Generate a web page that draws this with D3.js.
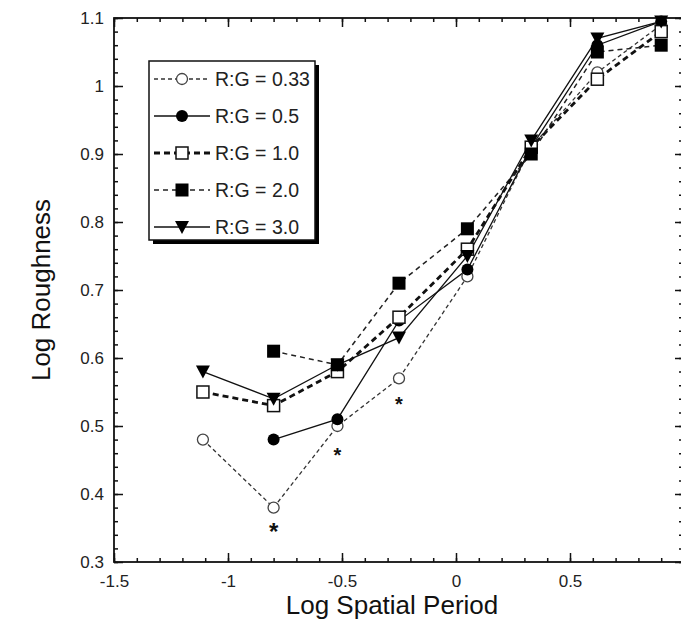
<!DOCTYPE html>
<html><head><meta charset="utf-8">
<script src="https://cdn.jsdelivr.net/npm/d3@7"></script>
<style>body{margin:0;background:#fff}svg{display:block}text{font-family:"Liberation Sans",Arial,Helvetica,sans-serif}</style>
</head><body>
<svg id="c" width="681" height="633"></svg>
<script>
const xTicks = [-1.5, -1, -0.5, 0, 0.5];
const yTicks = [0.3, 0.4, 0.5, 0.6, 0.7, 0.8, 0.9, 1, 1.1];
const seriesNames = ["R:G = 0.33", "R:G = 0.5", "R:G = 1.0", "R:G = 2.0", "R:G = 3.0"];
const rg033 = [[-1.11,0.48],[-0.80,0.38],[-0.52,0.50],[-0.25,0.57],[0.05,0.72],[0.33,0.91],[0.62,1.02],[0.90,1.09]];
const rg05  = [[-0.80,0.48],[-0.52,0.51],[-0.25,0.655],[0.05,0.73],[0.33,0.91],[0.62,1.06],[0.90,1.095]];
const rg10  = [[-1.11,0.55],[-0.80,0.53],[-0.52,0.58],[-0.25,0.66],[0.05,0.76],[0.33,0.91],[0.62,1.01],[0.90,1.08]];
const rg20  = [[-0.80,0.61],[-0.52,0.59],[-0.25,0.71],[0.05,0.79],[0.33,0.90],[0.62,1.05],[0.90,1.06]];
const rg30  = [[-1.11,0.58],[-0.80,0.54],[-0.52,0.59],[-0.25,0.63],[0.05,0.75],[0.33,0.92],[0.62,1.07],[0.90,1.095]];
const stars = [[-0.80,0.35],[-0.52,0.465],[-0.25,0.54]];

const svg = d3.select("#c");
const L = 114, R = 684, T = 18, B = 562;
const x = d3.scaleLinear().domain([-1.5, 1.0]).range([L, R]);
const y = d3.scaleLinear().domain([0.3, 1.1]).range([B, T]);

const styles = [
  {data: rg033, dash: "4,3", w: 1.3, col: "#333", marker: "ocircle"},
  {data: rg05,  dash: null,  w: 1.3, col: "#111", marker: "fcircle"},
  {data: rg10,  dash: "6,4", w: 2.8, col: "#111", marker: "osquare"},
  {data: rg20,  dash: "5,4", w: 1.5, col: "#222", marker: "fsquare"},
  {data: rg30,  dash: null,  w: 1.3, col: "#111", marker: "tri"}
];

// frame
svg.append("rect").attr("x", L).attr("y", T).attr("width", R - L).attr("height", B - T)
  .attr("fill", "none").attr("stroke", "#111").attr("stroke-width", 1.8);

const xMinor = d3.range(-1.5, 1.001, 0.1).map(v => +v.toFixed(2));
const yMinor = d3.range(0.3, 1.1001, 0.02).map(v => +v.toFixed(2));
function ax(gen, tr, vals, size, fmt){
  const g = svg.append("g").attr("transform", tr)
    .call(gen.tickValues(vals).tickSize(size).tickPadding(10).tickFormat(fmt));
  g.select(".domain").remove();
  g.selectAll(".tick line").attr("stroke", "#111").attr("stroke-width", 1.5);
  return g;
}
// minor ticks
ax(d3.axisBottom(x), `translate(0,${B})`, xMinor, -4, () => "");
ax(d3.axisTop(x), `translate(0,${T})`, xMinor, -4, () => "");
ax(d3.axisLeft(y), `translate(${L},0)`, yMinor, -4, () => "");
ax(d3.axisRight(y), `translate(${R},0)`, yMinor, -5, () => "");
// major ticks
const gx = ax(d3.axisBottom(x), `translate(0,${B})`, xTicks, -9, d => String(d));
gx.selectAll("text").attr("font-size", 17).attr("fill", "#222").attr("dy", "0.9em");
ax(d3.axisTop(x), `translate(0,${T})`, xTicks, -9, () => "");
const gy = ax(d3.axisLeft(y), `translate(${L},0)`, yTicks, -9, d => String(d));
gy.selectAll("text").attr("font-size", 17).attr("fill", "#222");
ax(d3.axisRight(y), `translate(${R},0)`, yTicks, -9, () => "");

// axis titles
svg.append("text").attr("x", 392).attr("y", 614).attr("text-anchor", "middle")
  .attr("font-size", 26).attr("fill", "#111").text("Log Spatial Period");
svg.append("text").attr("transform", "translate(50,290) rotate(-90)").attr("text-anchor", "middle")
  .attr("font-size", 26).attr("fill", "#111").text("Log Roughness");

function drawMarker(g, type, cx, cy){
  if (type === "ocircle") g.append("circle").attr("cx", cx).attr("cy", cy).attr("r", 5.5).attr("fill", "#fff").attr("stroke", "#444").attr("stroke-width", 1.3);
  if (type === "fcircle") g.append("circle").attr("cx", cx).attr("cy", cy).attr("r", 6).attr("fill", "#000");
  if (type === "osquare") g.append("rect").attr("x", cx-6).attr("y", cy-6).attr("width", 12).attr("height", 12).attr("fill", "#fff").attr("stroke", "#111").attr("stroke-width", 1.5);
  if (type === "fsquare") g.append("rect").attr("x", cx-6.5).attr("y", cy-6.5).attr("width", 13).attr("height", 13).attr("fill", "#000");
  if (type === "tri") g.append("path").attr("d", `M${cx-7},${cy-6}L${cx+7},${cy-6}L${cx},${cy+7}Z`).attr("fill", "#000");
}

const line = d3.line().x(d => x(d[0])).y(d => y(d[1]));
styles.forEach(s => {
  svg.append("path").attr("d", line(s.data)).attr("fill", "none").attr("stroke", s.col)
    .attr("stroke-width", s.w).attr("stroke-dasharray", s.dash);
});
styles.forEach(s => {
  const g = svg.append("g");
  s.data.forEach(d => drawMarker(g, s.marker, x(d[0]), y(d[1])));
});

// asterisks
stars.forEach((d, i) => {
  svg.append("text").attr("x", x(d[0])).attr("y", y(d[1]) + 12).attr("text-anchor", "middle")
    .attr("font-size", i === 0 ? 24 : 20).attr("font-weight", "bold").attr("fill", "#111").text("*");
});

// legend
const lg = svg.append("g");
lg.append("rect").attr("x", 153).attr("y", 65).attr("width", 166).attr("height", 179).attr("fill", "#000");
lg.append("rect").attr("x", 149).attr("y", 61).attr("width", 166).attr("height", 179).attr("fill", "#fff").attr("stroke", "#111").attr("stroke-width", 1.5);
styles.forEach((s, i) => {
  const cy = 79 + i * 37;
  lg.append("line").attr("x1", 154).attr("x2", 210).attr("y1", cy).attr("y2", cy)
    .attr("stroke", s.col).attr("stroke-width", s.w).attr("stroke-dasharray", s.dash);
  drawMarker(lg, s.marker, 182, cy);
  lg.append("text").attr("x", 215).attr("y", cy + 7).attr("font-size", 19.5).attr("fill", "#222").text(seriesNames[i]);
});
</script>
</body></html>
